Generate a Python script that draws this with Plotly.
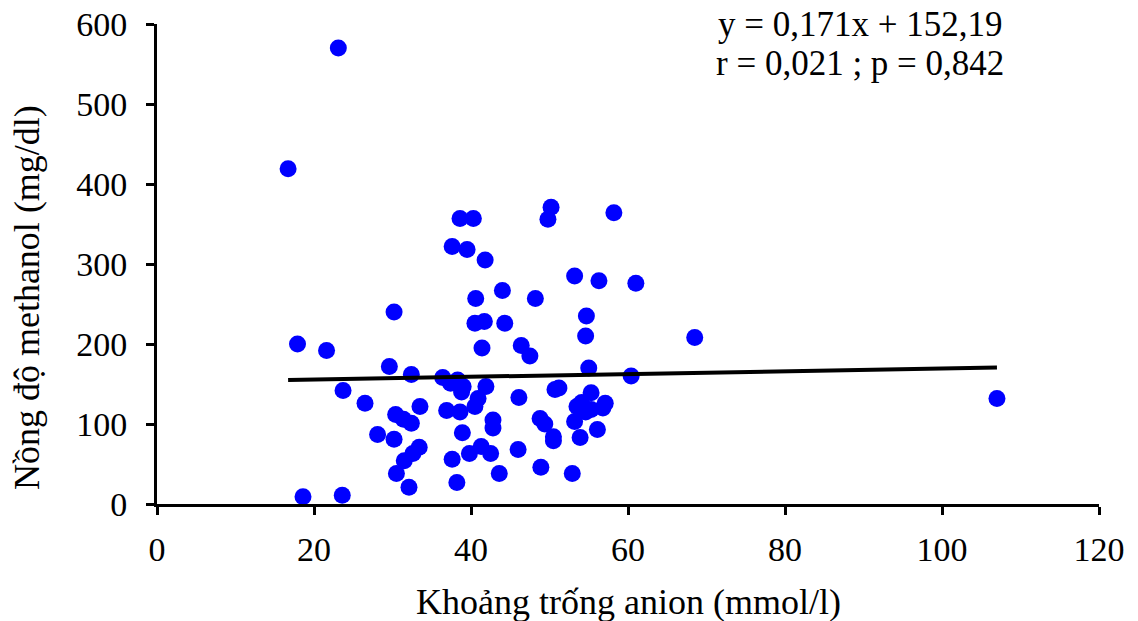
import plotly.graph_objects as go

# Anion gap (mmol/l)
anion_gap = [
    23.1, 16.7, 17.9, 21.6, 30.2, 29.6, 32.4, 23.7, 26.5, 30.4,
    31.4, 32.4, 33.5, 28.1, 30.2, 33.4, 32.6, 31.5, 30.5, 32.1,
    18.6, 23.6, 38.6, 40.3, 37.6, 39.5, 41.8, 44.0, 40.6, 48.2,
    40.5, 41.7, 44.3, 41.4, 46.4, 47.5, 36.4, 37.4, 38.3, 39.0,
    38.8, 41.9, 40.9, 40.5, 36.9, 38.6, 46.1, 42.8, 42.8, 38.9,
    37.6, 39.8, 41.3, 42.5, 46.0, 43.6, 38.2, 50.2, 49.8, 58.2,
    53.2, 56.3, 61.0, 54.7, 54.6, 68.5, 55.0, 60.4, 50.7, 51.2,
    55.3, 53.5, 54.1, 55.3, 57.1, 56.8, 53.2, 53.9, 56.1, 48.8,
    49.4, 50.5, 50.5, 48.9, 52.9, 107.0, 54.6,
]
# Methanol concentration (mg/dl)
methanol = [
    570, 419, 200, 192, 240, 172, 162, 142, 126, 112,
    106, 101, 122, 87, 81, 71, 63, 54, 38, 21,
    9, 11, 357, 357, 322, 318, 305, 267, 257, 257,
    226, 228, 226, 195, 198, 185, 158, 151, 155, 147,
    140, 147, 132, 122, 117, 115, 133, 105, 95, 89,
    56, 63, 72, 63, 68, 38, 27, 371, 356, 364,
    285, 279, 276, 235, 210, 208, 170, 160, 143, 145,
    139, 122, 127, 118, 126, 120, 103, 83, 93, 107,
    100, 84, 79, 46, 38, 132, 115,
]
# Regression line
slope = 0.171
intercept = 152.19
line_x = [min(anion_gap), max(anion_gap)]
line_y = [slope * v + intercept for v in line_x]

x_ticks = [0, 20, 40, 60, 80, 100, 120]
y_ticks = [0, 100, 200, 300, 400, 500, 600]

x_title = "Khoảng trống anion (mmol/l)"
y_title = "Nồng độ methanol (mg/dl)"
eq_text = "y = 0,171x + 152,19"
stat_text = "r = 0,021 ; p = 0,842"

FONT = "Liberation Serif"

fig = go.Figure()
fig.add_trace(go.Scatter(
    x=anion_gap, y=methanol, mode="markers",
    marker=dict(size=17, color="#0000FF", line=dict(width=0)),
    showlegend=False, cliponaxis=False,
))
fig.add_trace(go.Scatter(
    x=line_x, y=line_y, mode="lines",
    line=dict(color="black", width=4),
    showlegend=False,
))

axis_common = dict(
    showgrid=False, zeroline=False, automargin=False,
    showline=True, linecolor="black", linewidth=3,
    ticks="outside", ticklen=8, tickwidth=3, tickcolor="black",
    ticklabeloverflow="allow",
    tickfont=dict(size=34, family=FONT, color="black"),
)

fig.update_layout(
    width=1138, height=621,
    margin=dict(l=157, r=39, t=24, b=117),
    paper_bgcolor="white", plot_bgcolor="white",
    font=dict(family=FONT, color="black", size=34),
    xaxis=dict(range=[0, 120], tickvals=x_ticks, ticklabelstandoff=5, **axis_common),
    yaxis=dict(range=[0, 600], tickvals=y_ticks, ticklabelstandoff=12, **axis_common),
)

fig.add_annotation(
    text=x_title, xref="paper", yref="paper", x=0.5, y=-0.205,
    xanchor="center", yanchor="middle", showarrow=False,
    font=dict(size=36, family=FONT, color="black"),
)
fig.add_annotation(
    text=y_title, xref="paper", yref="paper", x=-0.138, y=0.429,
    xanchor="center", yanchor="middle", showarrow=False, textangle=-90,
    font=dict(size=36, family=FONT, color="black"),
)
fig.add_annotation(
    text=eq_text, xref="paper", yref="paper", x=0.746, y=0.998,
    xanchor="center", yanchor="middle", showarrow=False,
    font=dict(size=35, family=FONT, color="black"),
)
fig.add_annotation(
    text=stat_text, xref="paper", yref="paper", x=0.746, y=0.918,
    xanchor="center", yanchor="middle", showarrow=False,
    font=dict(size=35, family=FONT, color="black"),
)

# remove the browser's default 8px body margin so the figure fills the window
fig.write_html(
    "out.html",
    config={"displayModeBar": False},
    post_script="document.body.style.margin='0';document.body.style.overflow='hidden';",
)
